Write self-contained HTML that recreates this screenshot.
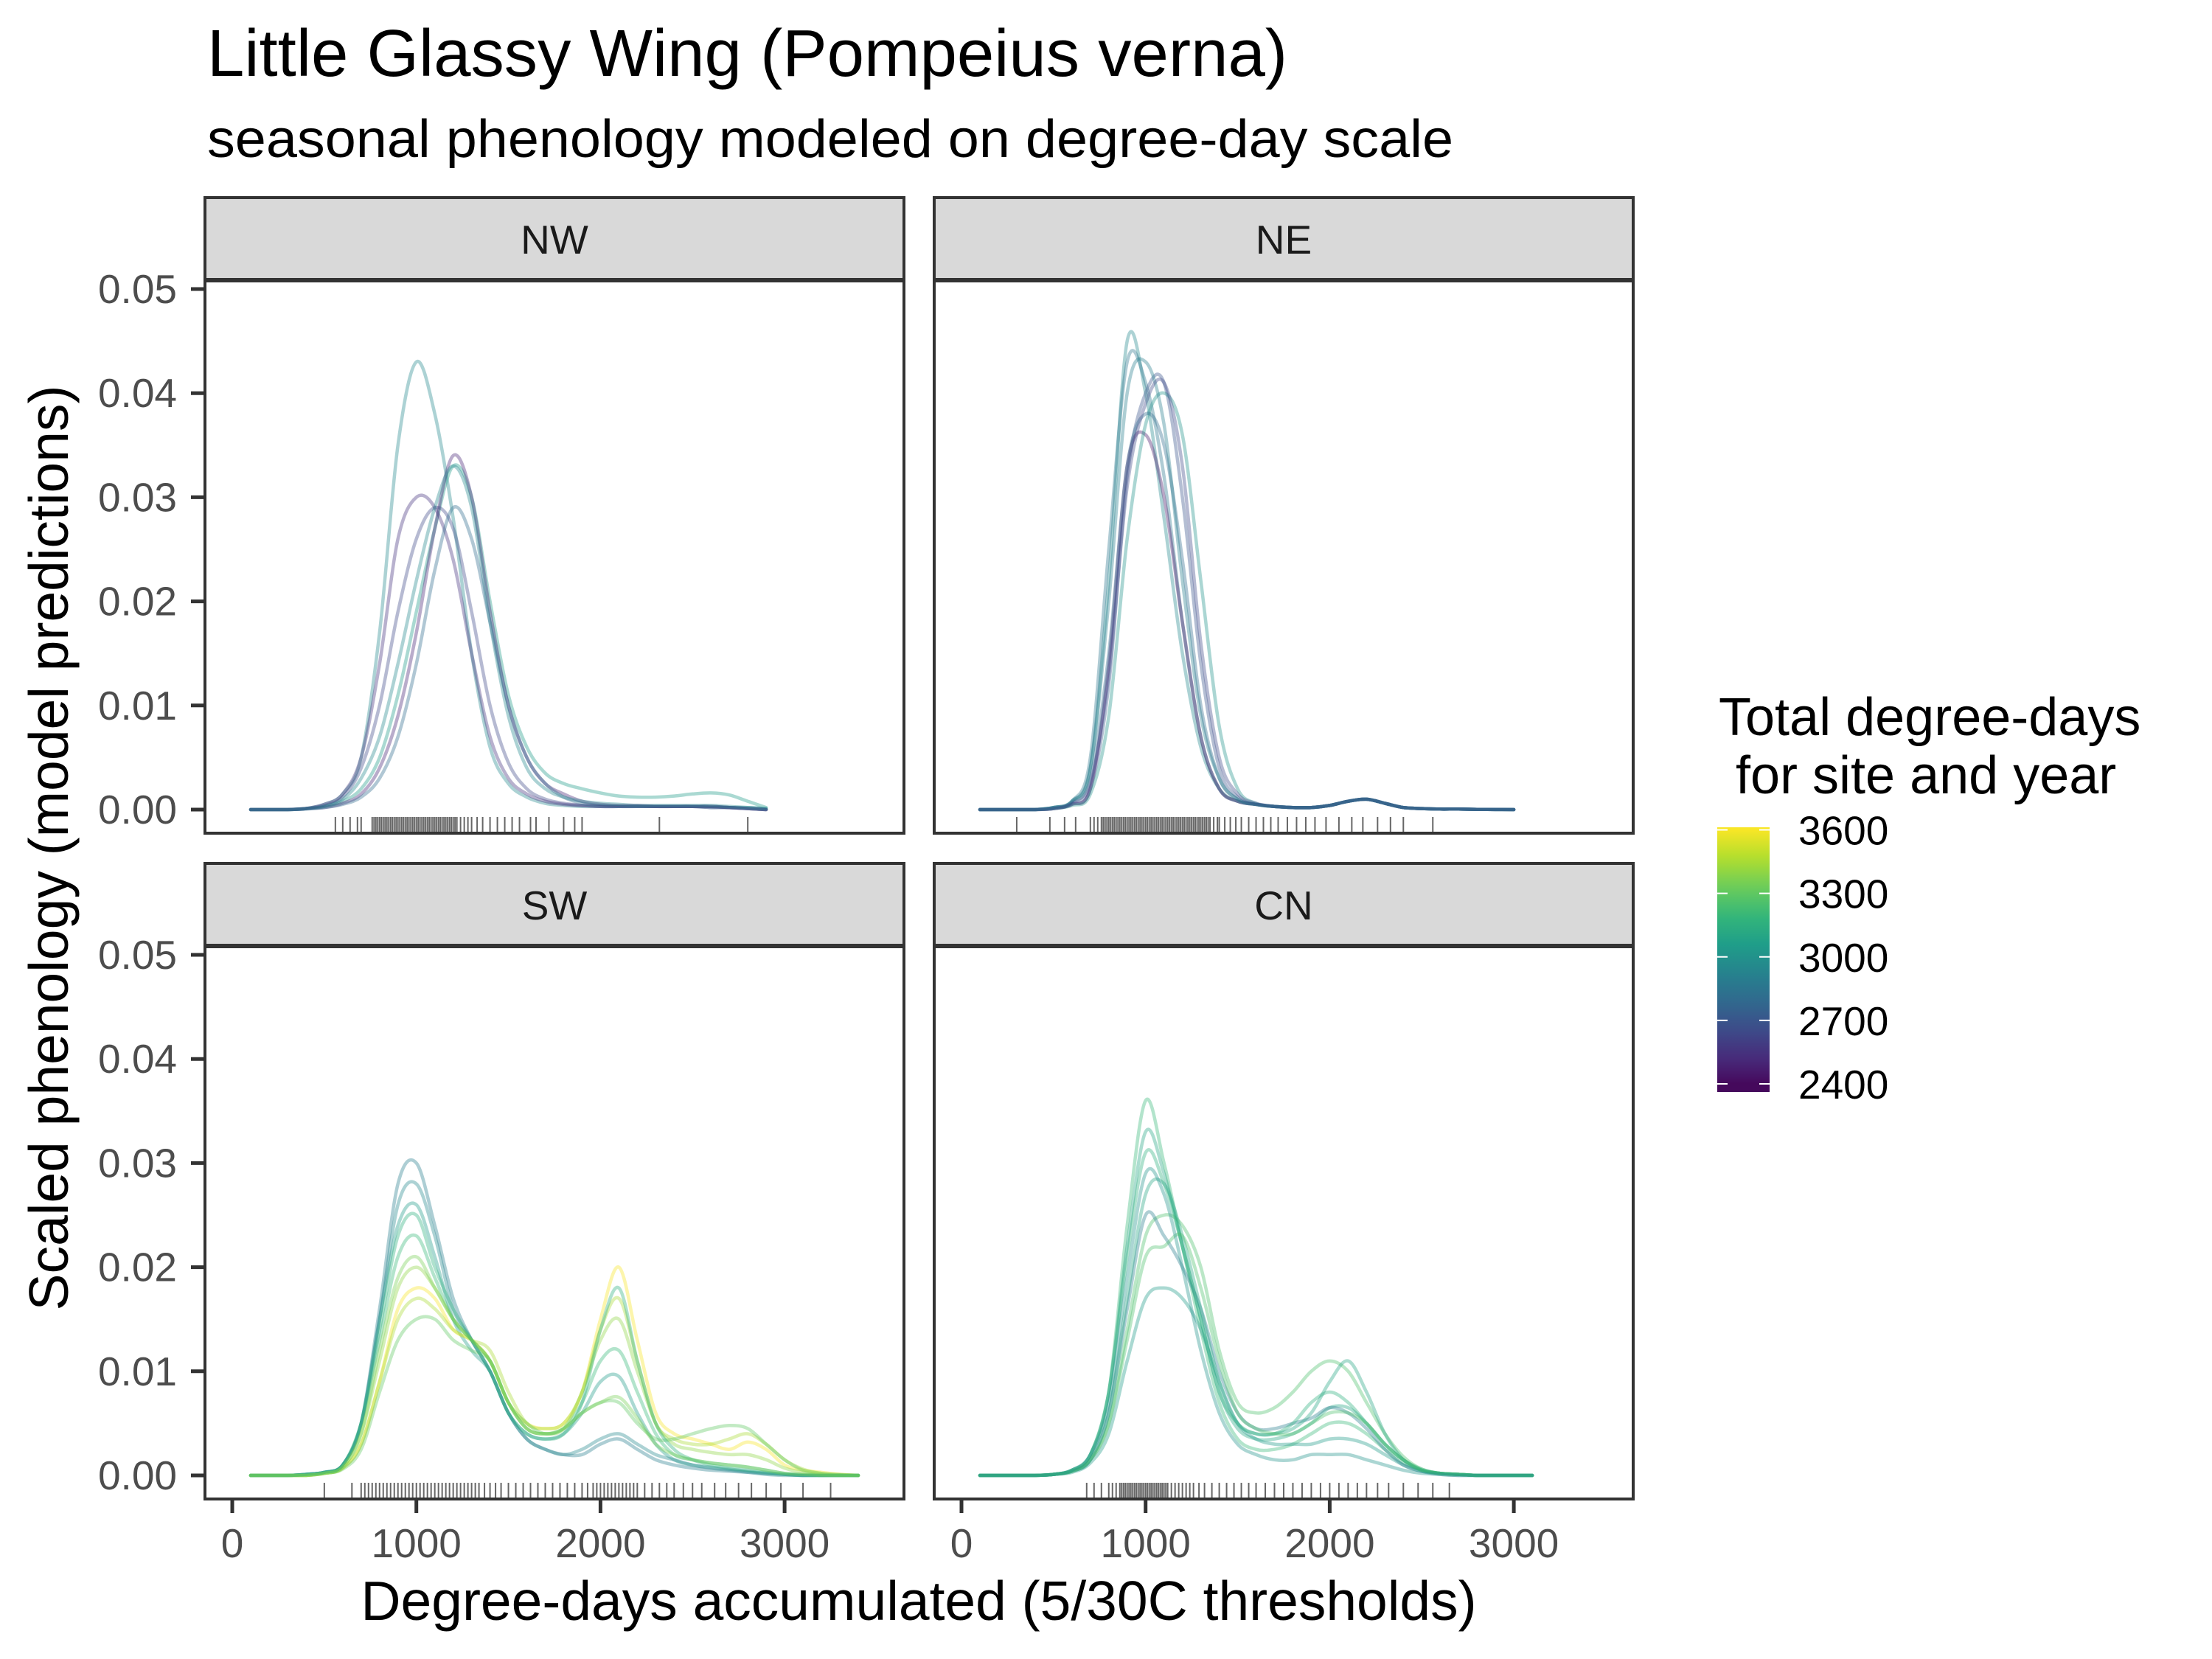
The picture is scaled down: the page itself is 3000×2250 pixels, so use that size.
<!DOCTYPE html>
<html><head><meta charset="utf-8">
<style>
html,body{margin:0;padding:0;background:#fff;}
svg{display:block;font-family:"Liberation Sans",Arial,sans-serif;}
</style></head>
<body>
<svg id="chart" width="3000" height="2250" viewBox="0 0 3000 2250" xmlns="http://www.w3.org/2000/svg">
<rect x="0" y="0" width="3000" height="2250" fill="#fff"/>
<text x="281" y="103" font-size="90" fill="#000" textLength="1465" lengthAdjust="spacingAndGlyphs">Little Glassy Wing (Pompeius verna)</text>
<text x="281" y="213" font-size="72" fill="#000" textLength="1690" lengthAdjust="spacingAndGlyphs">seasonal phenology modeled on degree-day scale</text>
<text transform="translate(92,1150) rotate(-90)" text-anchor="middle" font-size="75" fill="#000">Scaled phenology (model predictions)</text>
<text x="1246" y="2197" text-anchor="middle" font-size="75" fill="#000">Degree-days accumulated (5/30C thresholds)</text>
<g id="panels"></g>
<g id="legend"></g>
</svg>
<script>
// ---- data (values in units of 0.001; x grid 100,200,...) ----
const xStep = 100;
const yTicks = [0, 0.01, 0.02, 0.03, 0.04, 0.05];
const yTickLabels = ["0.00","0.01","0.02","0.03","0.04","0.05"];
const xTicks = [0, 1000, 2000, 3000];
const xTickLabels = ["0","1000","2000","3000"];
const panelNames = ["NW","NE","SW","CN"];
const legendTicks = [2400, 2700, 3000, 3300, 3600];

const nwTotals = [2950, 3050, 2650, 2550, 2500, 2950, 2800];
const nwCurves = [
 [0,0,0,0.1,0.5,1.5,5,17,35,43,38,28,15,6,2.5,1.2,0.6,0.4,0.3,0.3,0.3,0.3,0.3,0.3,0.3,0.3,0.2,0.2,0.1],
 [0,0,0,0.1,0.3,0.8,2,5,11,19,27,33,30,20,11,6,3.5,2.5,2,1.6,1.3,1.2,1.2,1.3,1.5,1.6,1.4,0.8,0.2],
 [0,0,0,0.1,0.4,1.2,4,10,19,26,29,27,19,10,4.5,2,1,0.6,0.4,0.3,0.3,0.3,0.3,0.3,0.3,0.3,0.2,0.1,0],
 [0,0,0,0.1,0.5,1.5,5,14,26,30,29,24,15,7,3,1.5,0.8,0.5,0.4,0.3,0.3,0.3,0.3,0.3,0.3,0.2,0.2,0.1,0],
 [0,0,0,0.1,0.2,0.6,1.5,4,9,17,27,34,30,19,10,5,2.5,1.5,0.8,0.5,0.4,0.4,0.3,0.3,0.3,0.3,0.2,0.1,0],
 [0,0,0,0.1,0.3,1,3,7,14,22,29,33,29,18,9,4,2,1.2,0.8,0.6,0.5,0.4,0.4,0.4,0.4,0.4,0.3,0.2,0.1],
 [0,0,0,0.05,0.2,0.5,1.2,3,7,14,23,29,26,18,10,5,2.5,1.2,0.6,0.4,0.3,0.3,0.3,0.3,0.3,0.2,0.2,0.1,0]
];
const neTotals = [2950, 2850, 2700, 2450, 3000, 2800, 2900, 2650];
const neCurves = [
 [0,0,0,0,0.2,0.8,4,22,45,40,28,15,6,2,0.8,0.5,0.3,0.2,0.2,0.4,0.8,1,0.6,0.2,0.1,0.05,0.05,0.02,0.01,0],
 [0,0,0,0,0.2,0.8,5,25,43,41,32,18,7,2,0.8,0.5,0.3,0.2,0.2,0.4,0.8,1,0.6,0.2,0.1,0.05,0.05,0.02,0.01,0],
 [0,0,0,0,0.1,0.5,2,12,32,40,41,30,14,4,1.2,0.5,0.3,0.2,0.2,0.4,0.8,1,0.6,0.2,0.1,0.05,0.05,0.02,0.01,0],
 [0,0,0,0,0.1,0.5,2,14,33,36,30,18,7,2,0.8,0.5,0.3,0.2,0.2,0.4,0.8,1,0.6,0.2,0.1,0.05,0.05,0.02,0.01,0],
 [0,0,0,0,0.1,0.4,1.5,9,26,37,40,36,22,8,2,0.6,0.3,0.2,0.2,0.4,0.8,1,0.6,0.2,0.1,0.05,0.05,0.02,0.01,0],
 [0,0,0,0,0.2,0.7,3,15,33,38,35,24,10,3,1,0.5,0.3,0.2,0.2,0.4,0.8,1,0.6,0.2,0.1,0.05,0.05,0.02,0.01,0],
 [0,0,0,0,0.2,0.8,4,20,40,43,37,22,9,3,1,0.5,0.3,0.2,0.2,0.4,0.8,1,0.6,0.2,0.1,0.05,0.05,0.02,0.01,0],
 [0,0,0,0,0.1,0.6,2.5,13,31,39,41,33,16,5,1.5,0.6,0.3,0.2,0.2,0.4,0.8,1,0.6,0.2,0.1,0.05,0.05,0.02,0.01,0]
];
const swTotals = [2900, 3050, 3600, 3450, 3200, 2950, 3400, 3300, 3150, 3350];
const swCurves = [
 [0,0,0,0.1,0.3,1,5,16,28,30,24,17,13,10,6,3.5,2.5,2,2,3,3.5,2.5,1.5,1,0.7,0.5,0.4,0.3,0.2,0.1,0,0,0,0],
 [0,0,0,0.1,0.3,1,5,15,24,26,21,15,12,10,6,4,3.5,4,6,9,9.5,6,3,1.5,1,0.8,0.6,0.4,0.2,0.1,0,0,0,0],
 [0,0,0,0,0.2,0.7,3,9,16,18,17,14,13,11,7,5,4.5,5,8,15,20,13,6,4,3.5,3,2.5,3.2,2.5,1,0.5,0.3,0.1,0],
 [0,0,0,0,0.2,0.7,3,9,15,17,16,14,13,12,8,5,4.5,5,8,14,17,11,5,3.5,3,3,3.5,4,3,1.5,0.6,0.2,0.1,0],
 [0,0,0,0.1,0.3,1,5,13,21,23,19,15,13,11,7,4.5,4,4.5,7,11,12,8,4,2,1.5,1.2,1,0.8,0.5,0.2,0.1,0,0,0],
 [0,0,0,0.1,0.3,1,5,15,26,28,23,16,13,10,6,3.5,2.5,2,2.5,3.5,4,3,2,1.5,1,0.7,0.5,0.3,0.1,0,0,0,0,0],
 [0,0,0,0,0.2,0.8,4,11,18,20,18,15,13,11,7,4.5,4,4.5,8,13,15,10,5,3,2.5,2.2,2,2,1.5,0.7,0.3,0.1,0,0],
 [0,0,0,0,0.2,0.6,2.5,8,13,15,15,13,12,11,7,5,4,4.5,6,7,7,5,3.5,3.5,4,4.5,4.8,4.5,3,1.5,0.5,0.2,0.05,0],
 [0,0,0,0.1,0.3,1,5,14,23,25,20,16,13,10,6,4,3.5,4,7,14,18,11,5,2.5,1.5,1,0.7,0.5,0.3,0.1,0,0,0,0],
 [0,0,0,0,0.2,0.8,4,12,19,21,18,15,13,11,7,4.5,4,4.5,6,7,7.5,5.5,3,2,1.5,1.2,1,0.8,0.5,0.2,0.1,0,0,0]
];
const cnTotals = [3200, 3100, 3250, 3050, 2900, 3150, 3100, 3250, 3000];
const cnCurves = [
 [0,0,0,0,0.1,0.5,2,8,24,36,30,22,14,7,3.5,2.5,2.5,3,4,5,5,4,2.5,1.2,0.5,0.2,0.1,0,0,0,0],
 [0,0,0,0,0.1,0.5,2,8,22,33,29,22,15,8,4.5,3.5,3.5,4,5,6.5,6.5,5,3,1.5,0.6,0.2,0.1,0,0,0,0],
 [0,0,0,0,0.1,0.4,1.5,5,14,23,25,24,20,12,7,6,6.5,8,10,11,10,7,4,1.8,0.6,0.2,0.1,0,0,0,0],
 [0,0,0,0,0.1,0.3,1.2,4,11,17,18,17,14,9,5,3.5,3,3,3,3.5,3.5,3,2,1,0.4,0.2,0.1,0,0,0,0],
 [0,0,0,0,0.1,0.4,1.5,6,16,25,23,20,16,10,6,4.5,4.5,5,5.5,6.5,6,4.5,2.5,1,0.4,0.1,0,0,0,0,0],
 [0,0,0,0,0.1,0.5,2,8,21,31,28,22,15,8,5,4,4,5,7,8,7,5,3,1.5,0.5,0.2,0.1,0,0,0,0],
 [0,0,0,0,0.1,0.4,1.5,6,17,27,28,23,16,9,5,4,4,4.5,6,9,11,8,4,1.5,0.5,0.2,0.1,0,0,0,0],
 [0,0,0,0,0.1,0.4,1.5,5,13,21,22,23,18,11,6,4.5,4,4,5,6,6,5,3,1.5,0.5,0.2,0.1,0,0,0,0],
 [0,0,0,0,0.1,0.5,2,7,19,29,27,20,12,6,3,2,1.5,1.5,2,2,2,1.5,1,0.5,0.2,0.1,0,0,0,0,0]
];
const nwRug = [560,600,640,680,700,760,770,780,790,800,810,820,830,840,850,860,870,880,890,900,910,920,930,940,950,960,970,980,990,1000,1010,1020,1030,1040,1050,1060,1070,1080,1090,1100,1110,1120,1130,1140,1150,1160,1170,1180,1190,1200,1210,1220,1240,1260,1280,1300,1330,1360,1400,1440,1480,1520,1560,1620,1650,1720,1800,1860,1900,2320,2800];
const neRug = [300,480,560,620,700,720,740,760,770,780,790,800,810,820,830,840,850,860,870,880,890,900,910,920,930,940,950,960,970,980,990,1000,1010,1020,1030,1040,1050,1060,1070,1080,1090,1100,1110,1120,1130,1140,1150,1160,1170,1180,1190,1200,1210,1220,1230,1240,1250,1260,1270,1280,1290,1300,1310,1320,1330,1340,1350,1370,1390,1400,1430,1460,1490,1520,1560,1600,1640,1680,1720,1770,1820,1870,1920,1980,2050,2120,2180,2260,2330,2400,2560];
const swRug = [500,650,700,720,740,760,780,800,820,840,860,880,900,920,940,960,980,1000,1020,1040,1060,1080,1100,1120,1140,1160,1180,1200,1220,1240,1260,1280,1300,1320,1340,1370,1400,1430,1460,1500,1540,1580,1620,1660,1700,1740,1780,1820,1860,1900,1930,1960,1980,2000,2020,2040,2060,2080,2100,2120,2140,2160,2180,2200,2240,2280,2320,2360,2400,2450,2500,2550,2620,2680,2750,2820,2900,2980,3100,3250];
const cnRug = [680,720,760,800,820,840,860,870,880,890,900,910,920,930,940,950,960,970,980,990,1000,1010,1020,1030,1040,1050,1060,1070,1080,1090,1100,1110,1120,1140,1160,1180,1200,1220,1240,1260,1290,1320,1360,1400,1440,1480,1520,1560,1600,1650,1700,1750,1800,1850,1900,1950,2000,2050,2100,2150,2200,2260,2320,2400,2480,2560,2650];

// ---- layout ----
const colX = [[278,1226],[1267,2215]];
const colX0 = [315, 1304];
const pxPerDD = 0.2497;
const rowOff = [0, 903];
const stripTop = 268, stripBot = 380, bodyBot = 1130;
const y0 = 1098, pxPerUnit = (1098-392)/0.05;

const NS = "http://www.w3.org/2000/svg";
function mk(tag, attrs, parent){const e=document.createElementNS(NS,tag);for(const k in attrs)e.setAttribute(k,attrs[k]);parent.appendChild(e);return e;}

const vir = [[68,1,84],[72,40,120],[62,73,137],[49,104,142],[38,130,142],[31,158,137],[53,183,121],[109,205,89],[180,222,44],[253,231,37]];
function viridis(t){t=Math.max(0,Math.min(1,t));const s=t*(vir.length-1);const i=Math.min(vir.length-2,Math.floor(s));const f=s-i;const c=vir[i].map((v,k)=>Math.round(v+(vir[i+1][k]-v)*f));return `rgb(${c[0]},${c[1]},${c[2]})`;}
const ddMin = 2370, ddMax = 3610;
function colorFor(v){return viridis((v-ddMin)/(ddMax-ddMin));}

function pathFrom(pts, base){
  let d=`M${pts[0][0].toFixed(1)},${pts[0][1].toFixed(1)}`;
  for(let i=0;i<pts.length-1;i++){
    const p0=pts[Math.max(0,i-1)],p1=pts[i],p2=pts[i+1],p3=pts[Math.min(pts.length-1,i+2)];
    const c1x=p1[0]+(p2[0]-p0[0])/6,c1y=p1[1]+(p2[1]-p0[1])/6;
    const c2x=p2[0]-(p3[0]-p1[0])/6,c2y=p2[1]-(p3[1]-p1[1])/6;
    d+=`C${c1x.toFixed(1)},${Math.min(c1y,base).toFixed(1)} ${c2x.toFixed(1)},${Math.min(c2y,base).toFixed(1)} ${p2[0].toFixed(1)},${p2[1].toFixed(1)}`;
  }
  return d;
}

const panelsData = [
  {curves:nwCurves, totals:nwTotals, rug:nwRug},
  {curves:neCurves, totals:neTotals, rug:neRug},
  {curves:swCurves, totals:swTotals, rug:swRug},
  {curves:cnCurves, totals:cnTotals, rug:cnRug}
];
const root = document.getElementById('panels');
panelsData.forEach((pd, pi)=>{
  const c = pi%2, r = Math.floor(pi/2);
  const [xl,xr] = colX[c], off = rowOff[r];
  const xs = v => colX0[c] + v*pxPerDD;
  const ys = v => y0 + off - v*pxPerUnit;
  const g = mk('g',{},root);
  
  
  const strip = mk('rect',{x:xl,y:stripTop+off,width:xr-xl,height:stripBot-stripTop,fill:'#d9d9d9',stroke:'#333','stroke-width':4},g);
  
  
  const st = mk('text',{x:(xl+xr)/2,y:(stripTop+stripBot)/2+off+20,'text-anchor':'middle','font-size':55,fill:'#1a1a1a'},g);
  st.textContent = panelNames[pi];
  
  
  const body = mk('rect',{x:xl,y:stripBot+off,width:xr-xl,height:bodyBot-stripBot,fill:'#fff',stroke:'none'},g);
  
  
  // rug
  pd.rug.forEach(v=>{
    const l = mk('line',{x1:xs(v),x2:xs(v),y1:bodyBot+off-22,y2:bodyBot+off,stroke:'#000','stroke-opacity':0.6,'stroke-width':2},g);
    
    
  });
  // curves
  pd.curves.forEach((vals, ci)=>{
    const pts = vals.map((v,i)=>[xs((i+1)*xStep), ys(v/1000)]);
    const p = mk('path',{d:pathFrom(pts, ys(0)),fill:'none',stroke:colorFor(pd.totals[ci]),'stroke-opacity':0.38,'stroke-width':4.5,'stroke-linejoin':'round','stroke-linecap':'round'},g);
    
    
  });
  const border = mk('rect',{x:xl,y:stripBot+off,width:xr-xl,height:bodyBot-stripBot,fill:'none',stroke:'#333','stroke-width':4},g);
  
  
  mk('line',{x1:xl,x2:xr,y1:stripBot+off,y2:stripBot+off,stroke:'#333','stroke-width':6},g);
  // y axis
  if(c===0){
    yTicks.forEach((t,k)=>{
      const y = ys(t);
      const tk = mk('line',{x1:xl-19,x2:xl,y1:y,y2:y,stroke:'#333','stroke-width':5},g);
      
      
      const tl = mk('text',{x:xl-38,y:y+19,'text-anchor':'end','font-size':55,fill:'#4d4d4d'},g);
      tl.textContent = yTickLabels[k];
      
      
    });
  }
  if(r===1){
    xTicks.forEach((t,k)=>{
      const x = xs(t);
      const tk = mk('line',{x1:x,x2:x,y1:bodyBot+off,y2:bodyBot+off+19,stroke:'#333','stroke-width':5},g);
      
      
      const tl = mk('text',{x:x,y:2112,'text-anchor':'middle','font-size':55,fill:'#4d4d4d'},g);
      tl.textContent = xTickLabels[k];
      
      
    });
  }
});

// legend
const lg = document.getElementById('legend');
const t1 = mk('text',{x:2331,y:997,'font-size':72,fill:'#000'},lg);
t1.textContent = 'Total degree-days';


const t2 = mk('text',{x:2354,y:1076,'font-size':72,fill:'#000'},lg);
t2.textContent = 'for site and year';


const barTop = 1122, barBot = 1481, barX = 2329, barW = 71;
const tickY = v => 1470 - (v-2400)/(3600-2400)*(1470-1125.5);
const defs = mk('defs',{},lg);
const grad = mk('linearGradient',{id:'vg',x1:0,y1:1,x2:0,y2:0},defs);
for(let i=0;i<=20;i++){
  const v = 2400 + (3600-2400)*i/20;
  const frac = (barBot - tickY(v))/(barBot-barTop);
  mk('stop',{offset:frac,'stop-color':colorFor(v)},grad);
}
const bar = mk('rect',{x:barX,y:barTop,width:barW,height:barBot-barTop,fill:'url(#vg)'},lg);


legendTicks.forEach(v=>{
  const y = tickY(v);
  mk('line',{x1:barX,x2:barX+14,y1:y,y2:y,stroke:'#fff','stroke-width':2},lg);
  mk('line',{x1:barX+barW-14,x2:barX+barW,y1:y,y2:y,stroke:'#fff','stroke-width':2},lg);
  const tl = mk('text',{x:2439,y:y+20,'font-size':55,fill:'#000'},lg);
  tl.textContent = String(v);
  
  
});
</script>
</body></html>
